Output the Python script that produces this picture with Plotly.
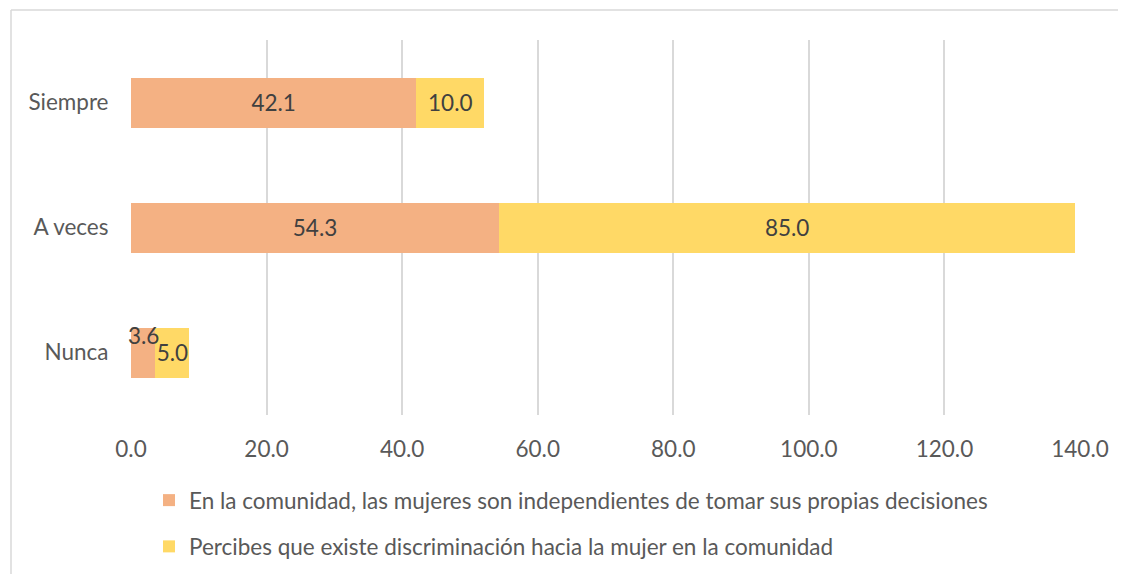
import plotly.graph_objects as go

categories = ["Nunca", "A veces", "Siempre"]
serie_indep = [3.6, 54.3, 42.1]
serie_discr = [5.0, 85.0, 10.0]
names = [
    "En la comunidad, las mujeres son independientes de tomar sus propias decisiones",
    "Percibes que existe discriminación hacia la mujer en la comunidad",
]
tick_vals = [0, 20, 40, 60, 80, 100, 120, 140]

FONT = "Lato"
TXT = "#595959"
GRID = "#D9D9D9"
FS = 22.5
OFF = 8  # page body margin

fig = go.Figure()
fig.add_trace(go.Bar(
    y=categories, x=serie_indep, orientation="h", name=names[0],
    marker=dict(color="#F4B183", line=dict(width=0)),
    text=[f"{v:.1f}" for v in serie_indep],
    textposition=["none", "inside", "inside"],
    insidetextanchor="middle", textangle=0,
    textfont=dict(family=FONT, size=FS, color="#404040"),
    legendgroup="a", width=0.4,
))
fig.add_trace(go.Bar(
    y=categories, x=serie_discr, orientation="h", name=names[1],
    marker=dict(color="#FFD966", line=dict(width=0)),
    text=[f"{v:.1f}" for v in serie_discr],
    textposition="inside",
    insidetextanchor="middle", textangle=0,
    textfont=dict(family=FONT, size=FS, color="#404040"),
    legendgroup="b", width=0.4,
))
# small value label that sits above the thin bar segment
fig.add_annotation(x=serie_indep[0] / 2, y=categories[0], text=f"{serie_indep[0]:.1f}",
                   showarrow=False, yshift=17,
                   font=dict(family=FONT, size=FS, color="#404040"))

# plot area in page pixels
P0, P1, Q0, Q1 = 131, 1080, 40, 415
W0, W1, H0, H1 = P0 - OFF, P1 - OFF, Q0 - OFF, Q1 - OFF
def px_x(p): return (p - P0) / (P1 - P0)
def px_y(p): return (Q1 - p) / (Q1 - Q0)

fig.add_shape(type="line", xref="paper", yref="paper",
              x0=px_x(11), x1=px_x(11), y0=px_y(10), y1=px_y(590),
              line=dict(color=GRID, width=1.5))
fig.add_shape(type="line", xref="paper", yref="paper",
              x0=px_x(11), x1=px_x(1140), y0=px_y(10), y1=px_y(10),
              line=dict(color=GRID, width=1.5))

fig.update_layout(
    width=1126, height=574,
    margin=dict(l=W0, r=1126 - W1, t=H0, b=574 - H1, autoexpand=False),
    barmode="stack",
    plot_bgcolor="white", paper_bgcolor="white",
    font=dict(family=FONT, size=FS, color=TXT),
    uniformtext=dict(minsize=FS, mode="show"),
    legend=dict(orientation="v", x=px_x(149), y=px_y(479), xanchor="left", yanchor="top",
                font=dict(family=FONT, size=FS, color=TXT), tracegroupgap=14,
                itemwidth=30),
    xaxis=dict(range=[0, 140], tickvals=tick_vals, ticktext=[f"{v:.1f}" for v in tick_vals],
               showgrid=True, gridcolor=GRID, gridwidth=1.5, zeroline=False,
               showline=False, ticks="outside", ticklen=14, tickcolor="rgba(0,0,0,0)",
               tickfont=dict(family=FONT, size=FS, color=TXT)),
    yaxis=dict(showgrid=False, zeroline=False, showline=False,
               ticks="outside", ticklen=17, tickcolor="rgba(0,0,0,0)",
               tickfont=dict(family=FONT, size=FS, color=TXT)),
)

fig.write_html("out.html")
